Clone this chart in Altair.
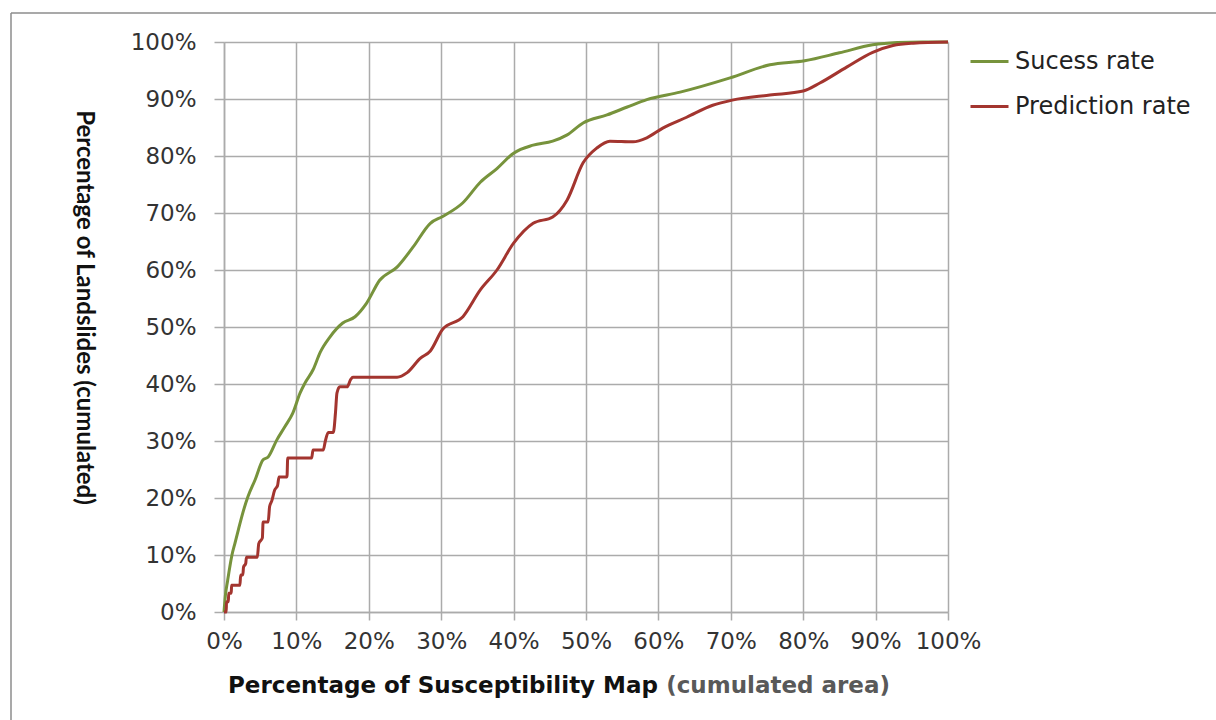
import altair as alt
import pandas as pd

series_names = ["Sucess rate", "Prediction rate"]
series_colors = ["#77933C", "#A3352F"]

succ_x = [0, 0.2, 0.5, 0.8, 1.1, 1.5, 2.0, 2.6, 3.3, 4.3, 5.4, 6.1, 7.3, 8.4, 9.5, 10.5,
          11.2, 12.3, 13.3, 14.6, 16.4, 18.1, 19.7, 21.5, 23.9, 26.1, 28.5, 30.2, 33.0,
          35.4, 37.7, 40.0, 42.7, 45.4, 47.4, 49.6, 52.9, 55.7, 58.4, 63.0, 69.9, 75.4,
          80.2, 85.0, 89.6, 93.0, 96.5, 100]
succ_y = [0, 3, 5.5, 7.9, 10, 12, 14.5, 17.4, 20.2, 23.2, 26.7, 27.2, 30.2, 32.5, 34.9, 38.4,
          40.2, 42.5, 45.6, 48.2, 50.7, 51.8, 54.2, 58.2, 60.5, 64.0, 68.2, 69.4, 71.8,
          75.4, 77.8, 80.5, 81.9, 82.6, 83.7, 85.8, 87.2, 88.6, 89.9, 91.2, 93.7, 96.0,
          96.7, 98.1, 99.5, 99.9, 100, 100]

pred_x = [0, 0.3, 0.35, 0.6, 0.65, 1.0, 1.05, 2.2, 2.3, 2.6, 2.7, 3.0, 3.1, 4.6, 4.8, 5.3,
          5.4, 6.1, 6.3, 6.6, 7.0, 7.4, 7.6, 8.7, 8.8, 12.1, 12.3, 13.7, 14.0, 14.4, 15.1,
          15.4, 15.6, 16.0, 17.0, 17.5, 17.8, 23.9, 25.3, 27.1, 28.5, 30.2, 33.0, 35.4,
          37.7, 40.0, 42.7, 45.4, 47.4, 49.6, 51.5, 53.3, 56.5, 58.4, 60.6, 63.9, 67.5,
          70.2, 75.4, 80.0, 82.3, 86.0, 89.6, 92.4, 95.2, 100]
pred_y = [0, 0, 1.8, 1.8, 3.3, 3.3, 4.7, 4.7, 6.5, 6.5, 7.9, 8.5, 9.6, 9.6, 12.0, 13.0,
          15.8, 15.8, 18.5, 19.5, 21.4, 22.2, 23.7, 23.7, 27.0, 27.0, 28.4, 28.4, 30.0, 31.5, 31.5,
          35.0, 38.4, 39.5, 39.5, 40.8, 41.2, 41.2, 42.0, 44.5, 45.8, 49.6, 51.8, 56.5,
          60.0, 64.7, 68.2, 69.3, 72.3, 78.8, 81.4, 82.6, 82.5, 83.2, 84.9, 86.8, 88.9,
          89.8, 90.7, 91.4, 92.8, 95.6, 98.2, 99.4, 99.8, 100]

tick_values = [0, 10, 20, 30, 40, 50, 60, 70, 80, 90, 100]
x_title_main = "Percentage of Susceptibility Map"
x_title_extra = "(cumulated area)"
y_title = "Percentage of Landslides (cumulated)"

FONT = "DejaVu Sans"
VFONT = "Lato"
GRID = "#ABABAB"

df = pd.concat([
    pd.DataFrame({"x": [v / 100 for v in succ_x], "y": [v / 100 for v in succ_y],
                  "series": series_names[0]}),
    pd.DataFrame({"x": [v / 100 for v in pred_x], "y": [v / 100 for v in pred_y],
                  "series": series_names[1]}),
], ignore_index=True)

ticks = [v / 100 for v in tick_values]

lines = alt.Chart(df).mark_line(interpolate="monotone", strokeWidth=3).encode(
    x=alt.X("x:Q", scale=alt.Scale(domain=[0, 1], nice=False, zero=True),
            axis=alt.Axis(format=".0%", values=ticks, title=None, tickSize=8,
                          labelPadding=10, grid=True, labelOverlap=False,
                          labelFlush=False)),
    y=alt.Y("y:Q", scale=alt.Scale(domain=[0, 1], nice=False),
            axis=alt.Axis(format=".0%", values=ticks, title=y_title, titleAngle=90,
                          titleX=-141, titleY=265, titleAlign="center",
                          titleBaseline="middle", titleFont=VFONT, titleFontSize=24,
                          titleFontWeight="bold", titleColor="#111111",
                          tickSize=10, labelPadding=18, grid=True, labelOverlap=False,
                          labelFlush=False)),
    color=alt.Color("series:N", scale=alt.Scale(domain=series_names, range=series_colors),
                    legend=alt.Legend(title=None, orient="none", legendX=745, legendY=-1,
                                      symbolType="stroke", symbolSize=1444,
                                      symbolStrokeWidth=3, labelFont=FONT,
                                      labelFontSize=24, labelColor="#222222",
                                      rowPadding=12, padding=0, labelOffset=5,
                                      labelLimit=400)),
    order=alt.Order("x:Q"),
)

title_df = pd.DataFrame({"t": [x_title_main]})
title_main = alt.Chart(title_df).mark_text(
    align="left", baseline="middle", font=FONT, fontSize=23, fontWeight="bold",
    color="#111111").encode(x=alt.value(4), y=alt.value(644), text="t:N")

extra_df = pd.DataFrame({"t": [x_title_extra]})
title_extra = alt.Chart(extra_df).mark_text(
    align="right", baseline="middle", font=FONT, fontSize=23, fontWeight="bold",
    color="#595959").encode(x=alt.value(666), y=alt.value(644), text="t:N")

frame_df = pd.DataFrame({"k": [0]})
frame_top = alt.Chart(frame_df).mark_rule(color="#8C8C8C", strokeWidth=1.5).encode(
    x=alt.value(-213), x2=alt.value(1000), y=alt.value(-29))
frame_left = alt.Chart(frame_df).mark_rule(color="#8C8C8C", strokeWidth=1.5).encode(
    x=alt.value(-213), y=alt.value(-29), y2=alt.value(700))

chart = alt.layer(frame_top, frame_left, lines, title_main, title_extra).properties(
    width=724, height=570,
    autosize=alt.AutoSizeParams(type="none"),
    padding={"left": 224, "top": 42, "right": 268, "bottom": 108},
    background="white",
).configure_view(stroke=None).configure_axis(
    gridColor=GRID, gridWidth=1.5, domainColor=GRID, domainWidth=1.5,
    tickColor=GRID, tickWidth=1.5, labelFont=FONT, labelFontSize=23,
    labelColor="#333333",
)

chart.save("out.html", embed_options={"renderer": "svg", "actions": False})
